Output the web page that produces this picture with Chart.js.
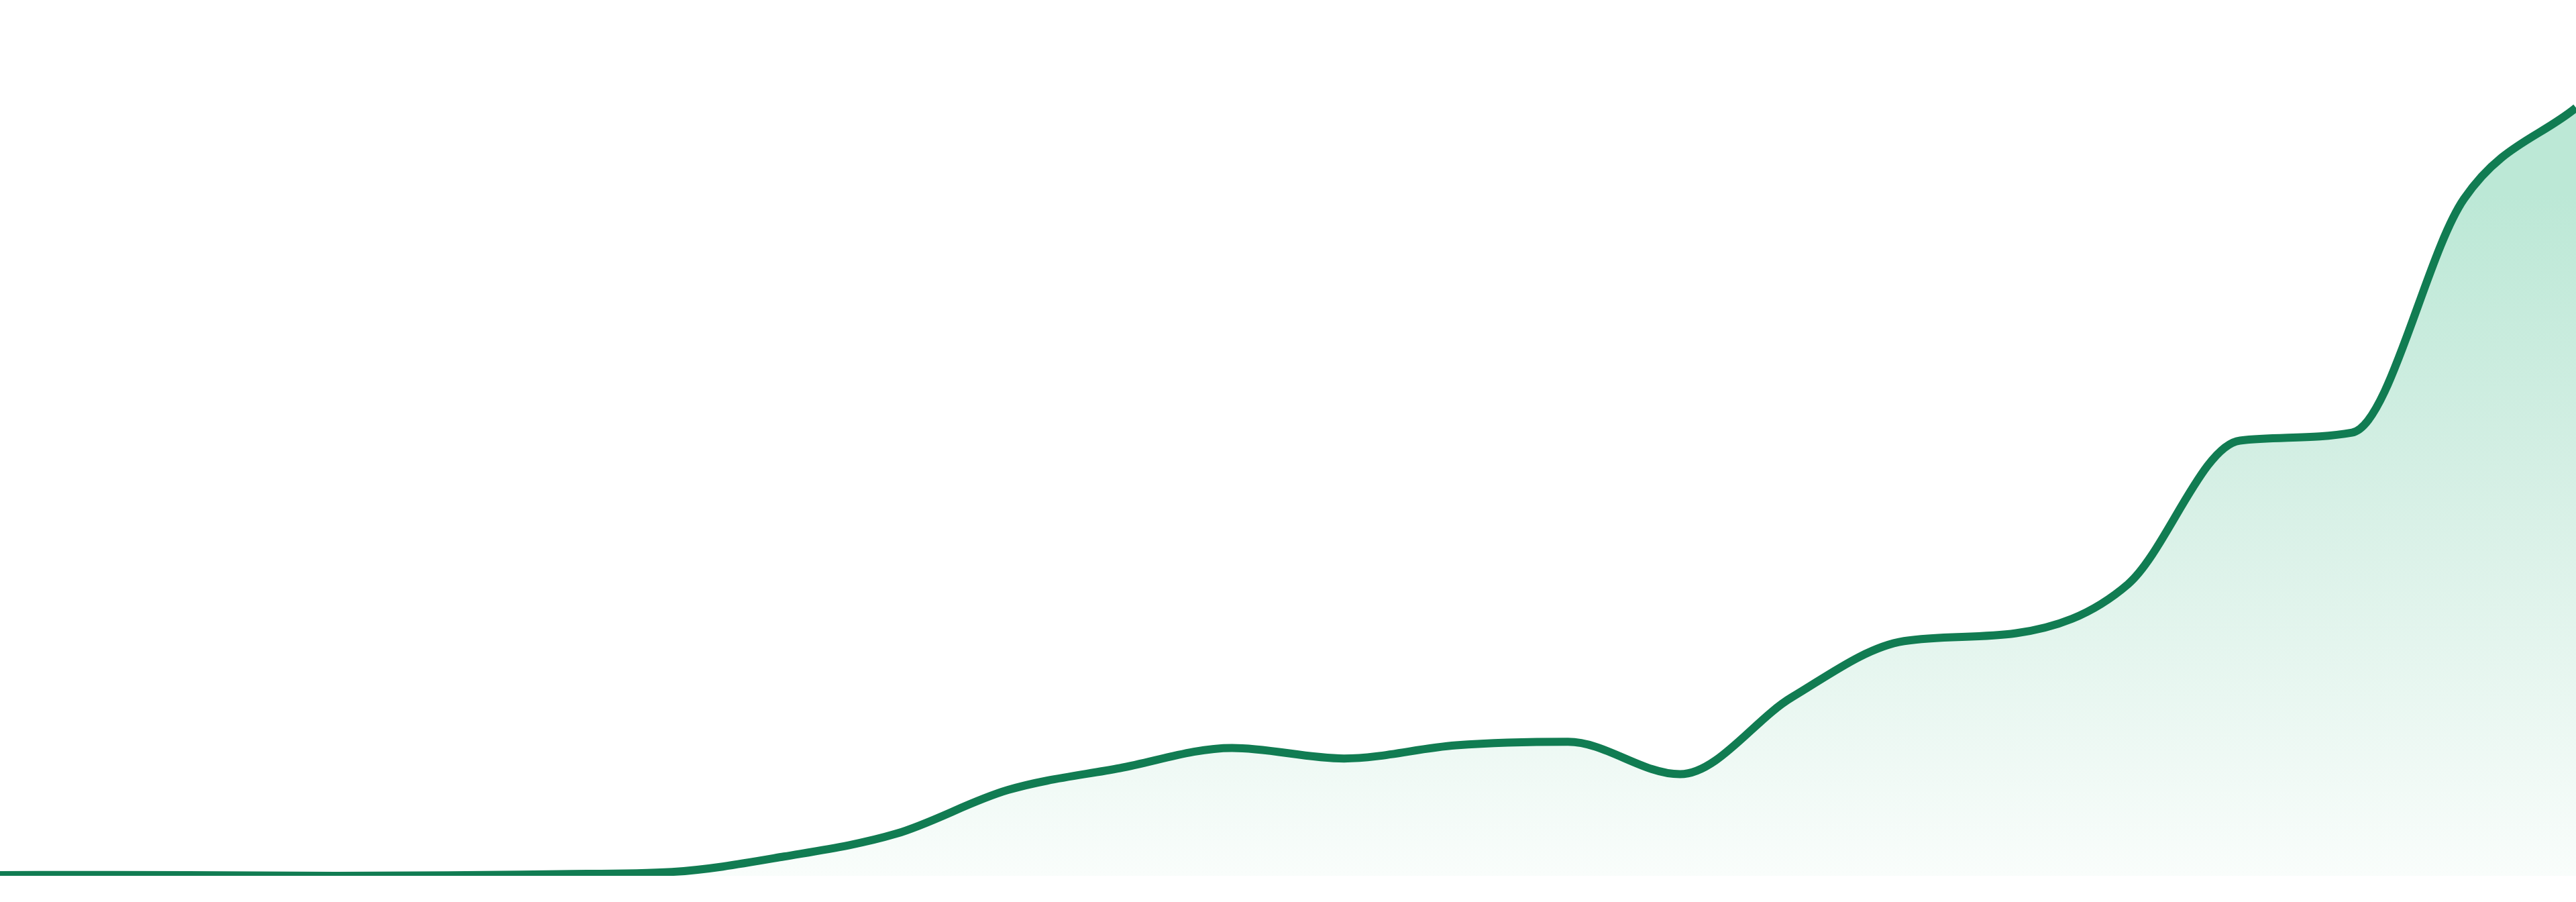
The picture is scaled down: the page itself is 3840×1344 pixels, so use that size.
<!DOCTYPE html>
<html>
<head>
<meta charset="utf-8">
<script src="https://cdn.jsdelivr.net/npm/chart.js@4/dist/chart.umd.min.js"></script>
<style>
  html, body { margin: 0; padding: 0; background: #ffffff; }
  #wrap { position: relative; width: 3840px; height: 1305px; }
</style>
</head>
<body>
<div id="wrap"><canvas id="myChart"></canvas></div>
<script>
// puntos de la serie (sin ejes visibles, valores relativos 0-100)
var etiquetas = ['1','2','3','4','5','6','7','8','9','10','11','12',
                 '13','14','15','16','17','18','19','20','21','22','23','24'];
var valores = [0.08, 0.10, 0.05, 0.0, 0.05, 0.2, 0.45, 2.2, 4.8, 9.8, 12.3, 14.6,
               13.4, 14.9, 15.3, 11.6, 20.4, 26.8, 27.7, 33.3, 49.7, 50.6, 77.3, 87.7];
var escalaMin = 0;
var escalaMax = 100;

function crearGrafico(){
    var ctx = document.getElementById("myChart").getContext("2d");
    var degradado = ctx.createLinearGradient(0, 290, 0, 1305);
    degradado.addColorStop(0, "rgb(188, 232, 214)");
    degradado.addColorStop(0.4, "rgb(212, 239, 228)");
    degradado.addColorStop(1, "rgb(249, 253, 251)");

    new Chart(ctx, {
        type: "line",
        data: {
            labels: etiquetas,
            datasets: [{
                data: valores,
                borderColor: "rgb(17, 124, 82)",
                borderWidth: 12,
                backgroundColor: degradado,
                fill: "start",
                cubicInterpolationMode: "monotone",
                pointRadius: 0,
                pointHoverRadius: 0
            }]
        },
        options: {
            responsive: true,
            maintainAspectRatio: false,
            animation: false,
            devicePixelRatio: 1,
            layout: { padding: 0 },
            plugins: { legend: { display: false }, tooltip: { enabled: false } },
            scales: {
                x: { display: false },
                y: { display: false, min: escalaMin, max: escalaMax }
            }
        }
    });
}

crearGrafico();
</script>
</body>
</html>
